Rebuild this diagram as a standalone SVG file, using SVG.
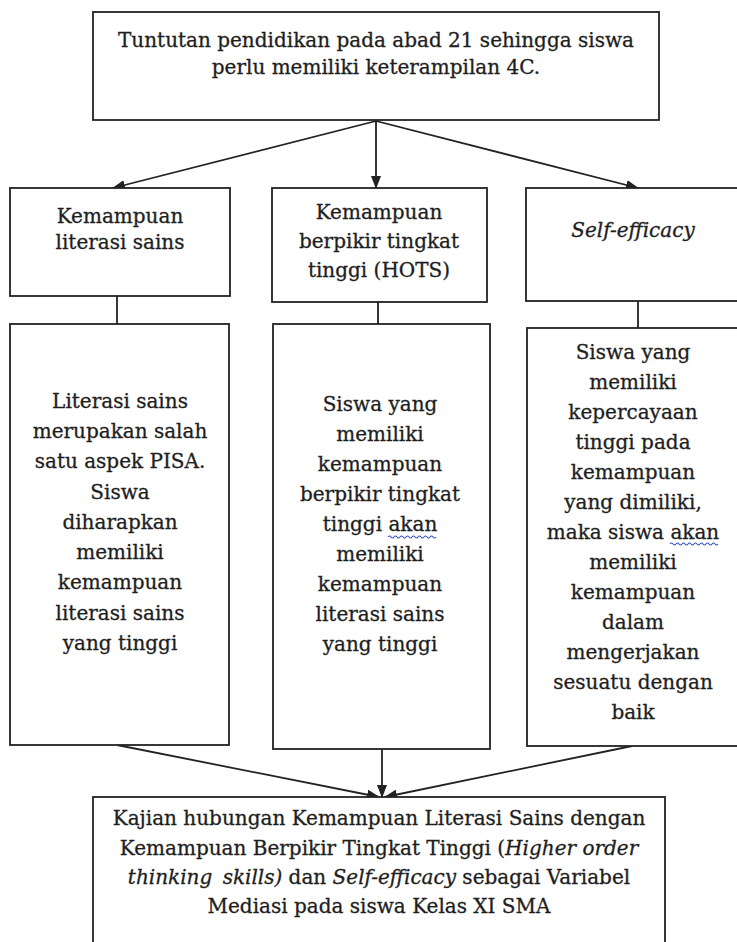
<svg xmlns="http://www.w3.org/2000/svg" width="737" height="942" viewBox="0 0 737 942">
  <style>
    .box { fill: #ffffff; stroke: #222222; stroke-width: 1.8; }
    .t { font-family: "DejaVu Serif", "Liberation Serif", serif; font-size: 20px; fill: #1e1e1e; stroke: #1e1e1e; stroke-width: 0.3; text-anchor: middle; }
    .i { font-style: italic; }
    .edge { fill: none; stroke: #222222; stroke-width: 1.8; }
    .wavy { fill: none; stroke: #3a50c0; stroke-width: 1.1; }
  </style>
  <defs>
    <marker id="arrow" markerUnits="userSpaceOnUse" markerWidth="13" markerHeight="10" refX="12" refY="5" orient="auto">
      <path d="M0,0 L13,5 L0,10 Z" fill="#222222"/>
    </marker>
  </defs>
  <rect width="737" height="942" fill="#ffffff"/>

  <g id="connectors">
    <line class="edge" x1="376" y1="121" x2="113" y2="188" marker-end="url(#arrow)"/>
    <line class="edge" x1="376" y1="121" x2="376" y2="188" marker-end="url(#arrow)"/>
    <line class="edge" x1="376" y1="121" x2="638" y2="188" marker-end="url(#arrow)"/>
    <line class="edge" x1="117" y1="296" x2="117" y2="324"/>
    <line class="edge" x1="378" y1="302" x2="378" y2="324"/>
    <line class="edge" x1="638" y1="301" x2="638" y2="328"/>
    <line class="edge" x1="117" y1="745" x2="379" y2="797" marker-end="url(#arrow)"/>
    <line class="edge" x1="382" y1="749" x2="382" y2="797" marker-end="url(#arrow)"/>
    <line class="edge" x1="632" y1="746" x2="385" y2="797" marker-end="url(#arrow)"/>
  </g>

  <g id="top">
    <rect class="box" x="93" y="12" width="566" height="108"/>
    <text class="t" x="376" y="47">Tuntutan pendidikan pada abad 21 sehingga siswa</text>
    <text class="t" x="376" y="74">perlu memiliki keterampilan 4C.</text>
  </g>

  <g id="literasi">
    <rect class="box" x="10" y="188" width="220" height="108"/>
    <text class="t" x="120" y="223">Kemampuan</text>
    <text class="t" x="120" y="249">literasi sains</text>
  </g>

  <g id="hots">
    <rect class="box" x="272" y="188" width="215" height="114"/>
    <text class="t" x="379" y="219">Kemampuan</text>
    <text class="t" x="379" y="248">berpikir tingkat</text>
    <text class="t" x="379" y="277">tinggi (HOTS)</text>
  </g>

  <g id="selfefficacy">
    <rect class="box" x="526" y="188" width="220" height="113"/>
    <text class="t i" x="633" y="237">Self-efficacy</text>
  </g>

  <g id="literasi-desc">
    <rect class="box" x="10" y="324" width="219" height="421"/>
    <text class="t" x="120" y="408">Literasi sains</text>
    <text class="t" x="120" y="438">merupakan salah</text>
    <text class="t" x="120" y="468">satu aspek PISA.</text>
    <text class="t" x="120" y="499">Siswa</text>
    <text class="t" x="120" y="529">diharapkan</text>
    <text class="t" x="120" y="559">memiliki</text>
    <text class="t" x="120" y="589">kemampuan</text>
    <text class="t" x="120" y="620">literasi sains</text>
    <text class="t" x="120" y="650">yang tinggi</text>
  </g>

  <g id="hots-desc">
    <rect class="box" x="273" y="324" width="217" height="425"/>
    <text class="t" x="380" y="411">Siswa yang</text>
    <text class="t" x="380" y="441">memiliki</text>
    <text class="t" x="380" y="471">kemampuan</text>
    <text class="t" x="380" y="501">berpikir tingkat</text>
    <text class="t" x="380" y="531">tinggi akan</text>
    <path class="wavy" d="M388,537 q1.5,-2 3,0 t3,0 t3,0 t3,0 t3,0 t3,0 t3,0 t3,0 t3,0 t3,0 t3,0 t3,0 t3,0 t3,0 t3,0 t3,0"/>
    <text class="t" x="380" y="561">memiliki</text>
    <text class="t" x="380" y="591">kemampuan</text>
    <text class="t" x="380" y="621">literasi sains</text>
    <text class="t" x="380" y="651">yang tinggi</text>
  </g>

  <g id="selfefficacy-desc">
    <rect class="box" x="527" y="328" width="220" height="418"/>
    <text class="t" x="633" y="359">Siswa yang</text>
    <text class="t" x="633" y="389">memiliki</text>
    <text class="t" x="633" y="419">kepercayaan</text>
    <text class="t" x="633" y="449">tinggi pada</text>
    <text class="t" x="633" y="479">kemampuan</text>
    <text class="t" x="633" y="509">yang dimiliki,</text>
    <text class="t" x="633" y="539">maka siswa akan</text>
    <path class="wavy" d="M670,544 q1.5,-2 3,0 t3,0 t3,0 t3,0 t3,0 t3,0 t3,0 t3,0 t3,0 t3,0 t3,0 t3,0 t3,0 t3,0 t3,0 t3,0"/>
    <text class="t" x="633" y="569">memiliki</text>
    <text class="t" x="633" y="599">kemampuan</text>
    <text class="t" x="633" y="629">dalam</text>
    <text class="t" x="633" y="659">mengerjakan</text>
    <text class="t" x="633" y="689">sesuatu dengan</text>
    <text class="t" x="633" y="719">baik</text>
  </g>

  <g id="kajian">
    <rect class="box" x="93" y="797" width="572" height="160"/>
    <text class="t" x="379" y="825">Kajian hubungan Kemampuan Literasi Sains dengan</text>
    <text class="t" x="379" y="855">Kemampuan Berpikir Tingkat Tinggi (<tspan class="i">Higher order</tspan></text>
    <text class="t" x="379" y="884"><tspan class="i">thinking</tspan> <tspan class="i" dx="4">skills)</tspan> dan <tspan class="i">Self-efficacy</tspan> sebagai Variabel</text>
    <text class="t" x="379" y="913">Mediasi pada siswa Kelas XI SMA</text>
  </g>
</svg>
